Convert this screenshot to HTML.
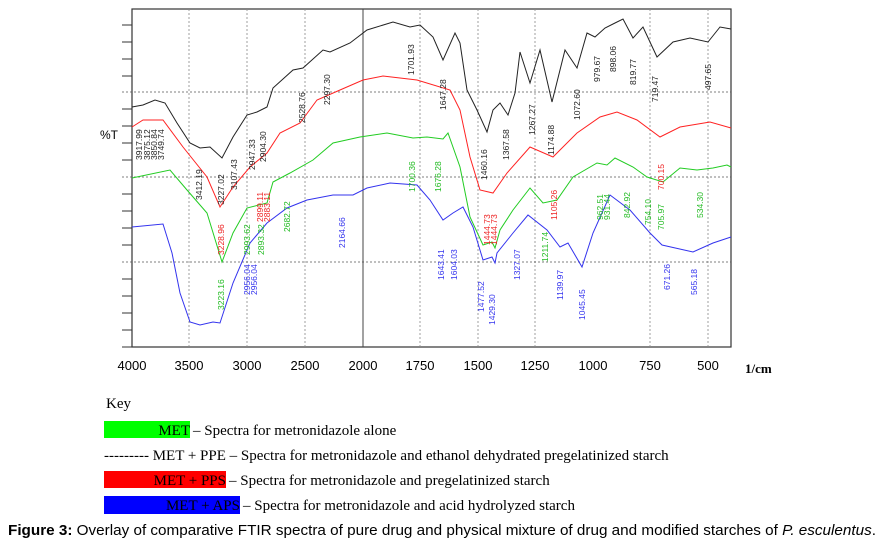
<!DOCTYPE html>
<html><head><meta charset="utf-8"><style>
body{margin:0;background:#fff;width:879px;height:547px;overflow:hidden}
svg{display:block}
.s{font-family:"Liberation Serif",serif;font-size:15px;fill:#000}
.l{font-family:"Liberation Sans",sans-serif;font-size:8.5px}
</style></head><body>
<svg width="879" height="547" viewBox="0 0 879 547">
<rect x="132" y="9" width="599" height="338" fill="none" stroke="#333" stroke-width="1.2"/>
<g stroke="#888" stroke-dasharray="2,2" stroke-width="0.8">
<line x1="189" y1="9" x2="189" y2="347"/><line x1="247" y1="9" x2="247" y2="347"/><line x1="305" y1="9" x2="305" y2="347"/>
<line x1="420" y1="9" x2="420" y2="347"/><line x1="478" y1="9" x2="478" y2="347"/><line x1="535" y1="9" x2="535" y2="347"/>
<line x1="650" y1="9" x2="650" y2="347"/><line x1="708" y1="9" x2="708" y2="347"/>
<line x1="122" y1="92" x2="731" y2="92" stroke="#555"/><line x1="122" y1="177" x2="731" y2="177" stroke="#555"/><line x1="122" y1="262" x2="731" y2="262" stroke="#555"/>
</g>
<line x1="363" y1="9" x2="363" y2="347" stroke="#444" stroke-width="1"/>
<g stroke="#333" stroke-width="1">
<line x1="122" y1="25" x2="132" y2="25"/><line x1="122" y1="42" x2="132" y2="42"/><line x1="122" y1="59" x2="132" y2="59"/><line x1="122" y1="76" x2="132" y2="76"/>
<line x1="122" y1="109" x2="132" y2="109"/><line x1="122" y1="126" x2="132" y2="126"/><line x1="122" y1="143" x2="132" y2="143"/><line x1="122" y1="160" x2="132" y2="160"/>
<line x1="122" y1="194" x2="132" y2="194"/><line x1="122" y1="211" x2="132" y2="211"/><line x1="122" y1="228" x2="132" y2="228"/><line x1="122" y1="245" x2="132" y2="245"/>
<line x1="122" y1="279" x2="132" y2="279"/><line x1="122" y1="296" x2="132" y2="296"/><line x1="122" y1="313" x2="132" y2="313"/><line x1="122" y1="330" x2="132" y2="330"/><line x1="122" y1="347" x2="132" y2="347"/>
</g>
<g font-family="Liberation Sans,sans-serif" font-size="13" text-anchor="middle" fill="#000">
<text x="132" y="370">4000</text><text x="189" y="370">3500</text><text x="247" y="370">3000</text><text x="305" y="370">2500</text><text x="363" y="370">2000</text><text x="420" y="370">1750</text><text x="478" y="370">1500</text><text x="535" y="370">1250</text><text x="593" y="370">1000</text><text x="650" y="370">750</text><text x="708" y="370">500</text>
</g>
<text x="100" y="139" font-family="Liberation Sans,sans-serif" font-size="12">%T</text>
<text x="745" y="373" font-family="Liberation Serif,serif" font-size="13" font-weight="bold">1/cm</text>
<g fill="none" stroke-width="1">
<polyline stroke="#222" points="132,107 143,105 155,100 165,103 177,123 190,143 200,148 210,147 222,158 233,137 247,115 257,112 267,107 273,88 293,70 303,68 323,50 330,52 350,43 367,30 393,22 410,27 420,25 433,37 443,60 455,33 460,43 467,90 477,110 487,132 493,110 500,103 508,115 515,93 520,52 530,83 540,50 552,102 565,50 577,68 587,33 595,37 605,28 615,23 623,19 633,38 643,27 657,57 673,42 690,38 708,42 720,27 731,29"/>
<polyline stroke="#f22" points="132,127 143,120 163,120 183,147 207,177 220,207 233,187 250,167 267,153 280,133 300,123 317,100 340,90 363,80 383,76 417,80 450,90 460,110 470,157 480,190 493,193 507,173 530,147 553,157 577,133 600,117 617,112 637,120 660,137 680,127 710,122 731,128"/>
<polyline stroke="#2c2" points="132,178 170,170 187,190 207,213 222,262 233,233 247,208 267,203 273,182 290,173 313,160 333,143 360,137 387,133 413,138 427,137 443,139 448,133 460,167 470,217 483,245 492,242 495,248 500,230 513,210 530,188 543,203 557,200 573,177 597,163 607,165 615,158 633,167 647,177 663,182 680,168 697,170 713,168 727,165 731,167"/>
<polyline stroke="#33e" points="132,227 163,224 172,253 180,293 190,322 200,325 213,322 220,323 233,283 250,243 267,223 287,208 307,200 333,195 353,195 367,188 390,183 417,185 430,200 443,220 453,213 463,207 473,227 483,260 492,257 495,263 497,253 513,233 528,215 547,230 560,247 568,243 582,267 593,233 610,195 630,210 650,233 662,245 693,252 713,243 731,237"/>
</g>
<g class="l">
<g fill="#222">
<text transform="translate(202,200) rotate(-90)">3412.19</text><text transform="translate(224,205) rotate(-90)">3227.02</text><text transform="translate(237,190) rotate(-90)">3107.43</text>
<text transform="translate(255,170) rotate(-90)">2947.33</text><text transform="translate(266,162) rotate(-90)">2904.30</text><text transform="translate(305,123) rotate(-90)">2528.76</text>
<text transform="translate(330,105) rotate(-90)">2297.30</text><text transform="translate(414,75) rotate(-90)">1701.93</text><text transform="translate(446,110) rotate(-90)">1647.28</text>
<text transform="translate(487,180) rotate(-90)">1460.16</text><text transform="translate(509,160) rotate(-90)">1367.58</text><text transform="translate(535,135) rotate(-90)">1267.27</text>
<text transform="translate(554,155) rotate(-90)">1174.88</text><text transform="translate(580,120) rotate(-90)">1072.60</text><text transform="translate(600,82) rotate(-90)">979.67</text>
<text transform="translate(616,72) rotate(-90)">898.06</text><text transform="translate(636,85) rotate(-90)">819.77</text><text transform="translate(658,102) rotate(-90)">719.47</text><text transform="translate(711,90) rotate(-90)">497.65</text>
<text transform="translate(142,160) rotate(-90)">3917.99</text><text transform="translate(150,160) rotate(-90)">3875.12</text><text transform="translate(157,160) rotate(-90)">3850.84</text><text transform="translate(164,160) rotate(-90)">3749.74</text>
</g>
<g fill="#e22">
<text transform="translate(224,255) rotate(-90)">3228.96</text><text transform="translate(263,222) rotate(-90)">2899.11</text><text transform="translate(270,222) rotate(-90)">2883.11</text>
<text transform="translate(490,245) rotate(-90)">1444.73</text><text transform="translate(497,245) rotate(-90)">1444.73</text><text transform="translate(557,220) rotate(-90)">1105.26</text><text transform="translate(664,190) rotate(-90)">700.15</text>
</g>
<g fill="#2b2">
<text transform="translate(224,310) rotate(-90)">3223.16</text><text transform="translate(250,255) rotate(-90)">2993.62</text><text transform="translate(264,255) rotate(-90)">2893.32</text>
<text transform="translate(290,232) rotate(-90)">2682.72</text><text transform="translate(415,192) rotate(-90)">1700.36</text><text transform="translate(441,192) rotate(-90)">1676.28</text>
<text transform="translate(548,262) rotate(-90)">1211.74</text><text transform="translate(603,220) rotate(-90)">962.51</text><text transform="translate(610,220) rotate(-90)">931.44</text>
<text transform="translate(630,218) rotate(-90)">842.92</text><text transform="translate(651,225) rotate(-90)">754.10</text><text transform="translate(664,230) rotate(-90)">705.97</text><text transform="translate(703,218) rotate(-90)">534.30</text>
</g>
<g fill="#33e">
<text transform="translate(250,295) rotate(-90)">2956.04</text><text transform="translate(257,295) rotate(-90)">2956.04</text><text transform="translate(345,248) rotate(-90)">2164.66</text>
<text transform="translate(444,280) rotate(-90)">1643.41</text><text transform="translate(457,280) rotate(-90)">1604.03</text><text transform="translate(484,312) rotate(-90)">1477.52</text>
<text transform="translate(495,325) rotate(-90)">1429.30</text><text transform="translate(520,280) rotate(-90)">1327.07</text><text transform="translate(563,300) rotate(-90)">1139.97</text>
<text transform="translate(585,320) rotate(-90)">1045.45</text><text transform="translate(670,290) rotate(-90)">671.26</text><text transform="translate(697,295) rotate(-90)">565.18</text>
</g>
</g>
<text class="s" x="106" y="408">Key</text>
<rect x="104" y="421" width="86" height="17" fill="#0f0"/>
<text class="s" x="190" y="435" text-anchor="end">MET</text><text class="s" x="193" y="435">– Spectra for metronidazole alone</text>
<text class="s" x="104" y="460">--------- MET + PPE – Spectra for metronidazole and ethanol dehydrated pregelatinized starch</text>
<rect x="104" y="471" width="122" height="17" fill="#f00"/>
<text class="s" x="226" y="485" text-anchor="end">MET + PPS</text><text class="s" x="229" y="485">– Spectra for metronidazole and pregelatinized starch</text>
<rect x="104" y="496" width="136" height="18" fill="#00f"/>
<text class="s" x="240" y="510" text-anchor="end">MET + APS</text><text class="s" x="243" y="510">– Spectra for metronidazole and acid hydrolyzed starch</text>
<text x="8" y="535" font-family="Liberation Sans,sans-serif" font-size="14.5" textLength="868" lengthAdjust="spacingAndGlyphs"><tspan font-weight="bold">Figure 3:</tspan> Overlay of comparative FTIR spectra of pure drug and physical mixture of drug and modified starches of <tspan font-style="italic">P. esculentus</tspan>.</text>
</svg>
</body></html>
